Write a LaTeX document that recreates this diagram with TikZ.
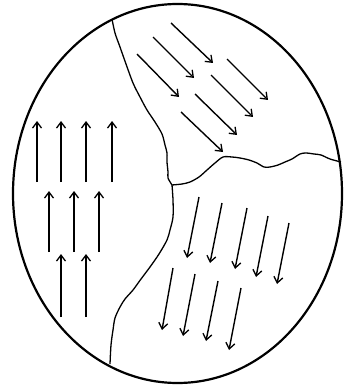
\documentclass[tikz,border=0pt]{standalone}
\usetikzlibrary{arrows.meta}
\begin{document}
\begin{tikzpicture}[x=1pt,y=-1pt,
  rim/.style={line width=2.2pt},
  grain/.style={line width=1.3pt, line join=round},
  vec/.style={line width=1.4pt, -{Straight Barb[length=6pt,width=9pt,line width=1.3pt]}}]
\useasboundingbox (0,0) rectangle (343,385);
% outer ellipse
\draw[rim] (177.5,193.5) ellipse [x radius=164.5, y radius=189.5];
% grain boundaries
\coordinate (J) at (172,185);
\draw[grain] plot[smooth, tension=0.5] coordinates {(112,19) (115,33) (120,47) (126,64) (133,83) (140,97) (147,110) (155,122) (162,134) (165,145) (167,153) (167,162) (168,172) (168,178) (172,185)};
\draw[grain] plot[smooth, tension=0.5] coordinates {(172,185) (182,184) (190,182) (199,177) (207,170) (215,163) (223,157) (232,157) (240,158) (249,160) (257,163) (264,167) (270,167) (278,165) (285,162) (292,159) (300,154) (306,153) (314,154) (321,155) (330,159) (341,162)};
\draw[grain] plot[smooth, tension=0.5] coordinates {(172,185) (173,200) (173,217) (170,230) (167,240) (159,254) (150,267) (141,279) (133,290) (125,299) (120,307) (115,318) (113,330) (111,345) (110,364)};
% left grain: up arrows
\foreach \x in {37,61,86,112} \draw[vec] (\x,182) -- (\x,121);
\foreach \x in {49,74,99} \draw[vec] (\x,252) -- (\x,191);
\foreach \x in {61,86} \draw[vec] (\x,317) -- (\x,254);
% upper right grain: down-right arrows
\draw[vec] (171,23) -- (213,63);
\draw[vec] (153,37) -- (194,78);
\draw[vec] (137,54) -- (179,97);
\draw[vec] (227,59) -- (268,100);
\draw[vec] (211,75) -- (253,117);
\draw[vec] (195,94) -- (237,135);
\draw[vec] (181,112) -- (223,152);
% lower right grain: down-left arrows
\draw[vec] (199,197) -- (187,258);
\draw[vec] (222,203) -- (210,263);
\draw[vec] (247,208) -- (235,269);
\draw[vec] (268,216) -- (256,277);
\draw[vec] (289,223) -- (277,284);
\draw[vec] (173,268) -- (162,330);
\draw[vec] (195,274) -- (183,336);
\draw[vec] (218,281) -- (206,341);
\draw[vec] (241,288) -- (229,350);
\end{tikzpicture}
\end{document}
